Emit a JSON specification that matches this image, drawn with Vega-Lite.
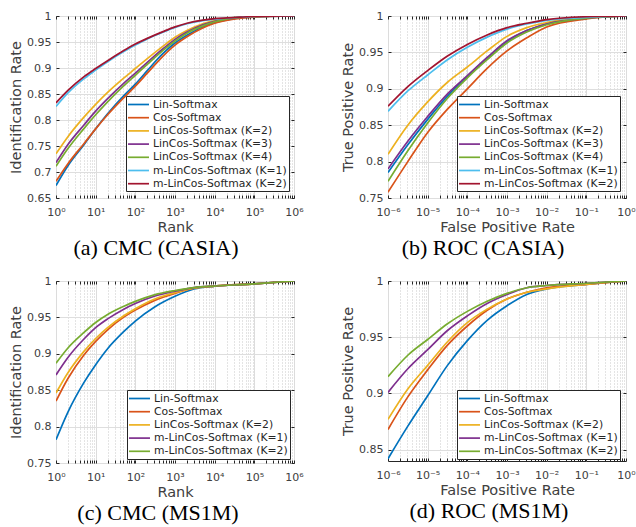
{
"$schema": "https://vega.github.io/schema/vega-lite/v6.json",
"background": "white",
"padding": {"left": 8, "top": 9, "right": 5, "bottom": 3},
"config": {
 "font": "DejaVu Sans",
 "view": {"stroke": "#262626", "strokeWidth": 1},
 "axis": {"domain": false, "tickColor": "#262626", "tickSize": -3, "labelFontSize": 11, "labelColor": "#404040", "titleFontSize": 14.5, "titleFontWeight": "normal", "titleColor": "#404040", "gridColor": "#dedede", "gridWidth": 1, "labelFlush": false, "labelOverlap": false},
 "axisX": {"labelPadding": 11, "titlePadding": 3},
 "axisY": {"labelPadding": 8, "titlePadding": 3, "format": ".2~f"},
 "legend": {"orient": "none", "fillColor": "white", "strokeColor": "#262626", "strokeWidth": 1, "padding": 2, "symbolType": "M-2,0H2", "symbolSize": 110, "symbolStrokeWidth": 2, "symbolOffset": 4, "labelOffset": 8, "labelFontSize": 10.8, "labelColor": "#262626", "rowPadding": 1.2, "labelLimit": 300},
 "title": {"orient": "bottom", "anchor": "middle", "frame": "group", "font": "Liberation Serif", "fontSize": 22, "fontWeight": "normal", "color": "#000000", "offset": 4},
 "line": {"strokeWidth": 1.7, "interpolate": "monotone"}
},
"datasets": {
 "a": [
  {"s":"Lin-Softmax","x":1,"y":0.674},{"s":"Lin-Softmax","x":2,"y":0.712},{"s":"Lin-Softmax","x":5,"y":0.752},{"s":"Lin-Softmax","x":10,"y":0.783},{"s":"Lin-Softmax","x":20,"y":0.812},{"s":"Lin-Softmax","x":50,"y":0.846},{"s":"Lin-Softmax","x":100,"y":0.869},{"s":"Lin-Softmax","x":200,"y":0.895},{"s":"Lin-Softmax","x":500,"y":0.928},{"s":"Lin-Softmax","x":1000,"y":0.948},{"s":"Lin-Softmax","x":2000,"y":0.963},{"s":"Lin-Softmax","x":5000,"y":0.979},{"s":"Lin-Softmax","x":10000,"y":0.987},{"s":"Lin-Softmax","x":30000,"y":0.995},{"s":"Lin-Softmax","x":100000,"y":0.998},{"s":"Lin-Softmax","x":1000000,"y":1},
  {"s":"Cos-Softmax","x":1,"y":0.682},{"s":"Cos-Softmax","x":2,"y":0.716},{"s":"Cos-Softmax","x":5,"y":0.754},{"s":"Cos-Softmax","x":10,"y":0.783},{"s":"Cos-Softmax","x":20,"y":0.81},{"s":"Cos-Softmax","x":50,"y":0.842},{"s":"Cos-Softmax","x":100,"y":0.865},{"s":"Cos-Softmax","x":200,"y":0.89},{"s":"Cos-Softmax","x":500,"y":0.923},{"s":"Cos-Softmax","x":1000,"y":0.944},{"s":"Cos-Softmax","x":2000,"y":0.96},{"s":"Cos-Softmax","x":5000,"y":0.977},{"s":"Cos-Softmax","x":10000,"y":0.986},{"s":"Cos-Softmax","x":30000,"y":0.994},{"s":"Cos-Softmax","x":100000,"y":0.998},{"s":"Cos-Softmax","x":1000000,"y":1},
  {"s":"LinCos-Softmax (K=2)","x":1,"y":0.735},{"s":"LinCos-Softmax (K=2)","x":2,"y":0.768},{"s":"LinCos-Softmax (K=2)","x":5,"y":0.805},{"s":"LinCos-Softmax (K=2)","x":10,"y":0.83},{"s":"LinCos-Softmax (K=2)","x":20,"y":0.853},{"s":"LinCos-Softmax (K=2)","x":50,"y":0.88},{"s":"LinCos-Softmax (K=2)","x":100,"y":0.899},{"s":"LinCos-Softmax (K=2)","x":200,"y":0.918},{"s":"LinCos-Softmax (K=2)","x":500,"y":0.942},{"s":"LinCos-Softmax (K=2)","x":1000,"y":0.959},{"s":"LinCos-Softmax (K=2)","x":2000,"y":0.972},{"s":"LinCos-Softmax (K=2)","x":5000,"y":0.985},{"s":"LinCos-Softmax (K=2)","x":10000,"y":0.991},{"s":"LinCos-Softmax (K=2)","x":30000,"y":0.997},{"s":"LinCos-Softmax (K=2)","x":100000,"y":0.999},{"s":"LinCos-Softmax (K=2)","x":1000000,"y":1},
  {"s":"LinCos-Softmax (K=3)","x":1,"y":0.718},{"s":"LinCos-Softmax (K=3)","x":2,"y":0.753},{"s":"LinCos-Softmax (K=3)","x":5,"y":0.79},{"s":"LinCos-Softmax (K=3)","x":10,"y":0.817},{"s":"LinCos-Softmax (K=3)","x":20,"y":0.841},{"s":"LinCos-Softmax (K=3)","x":50,"y":0.87},{"s":"LinCos-Softmax (K=3)","x":100,"y":0.89},{"s":"LinCos-Softmax (K=3)","x":200,"y":0.911},{"s":"LinCos-Softmax (K=3)","x":500,"y":0.937},{"s":"LinCos-Softmax (K=3)","x":1000,"y":0.955},{"s":"LinCos-Softmax (K=3)","x":2000,"y":0.969},{"s":"LinCos-Softmax (K=3)","x":5000,"y":0.983},{"s":"LinCos-Softmax (K=3)","x":10000,"y":0.99},{"s":"LinCos-Softmax (K=3)","x":30000,"y":0.996},{"s":"LinCos-Softmax (K=3)","x":100000,"y":0.999},{"s":"LinCos-Softmax (K=3)","x":1000000,"y":1},
  {"s":"LinCos-Softmax (K=4)","x":1,"y":0.711},{"s":"LinCos-Softmax (K=4)","x":2,"y":0.745},{"s":"LinCos-Softmax (K=4)","x":5,"y":0.783},{"s":"LinCos-Softmax (K=4)","x":10,"y":0.81},{"s":"LinCos-Softmax (K=4)","x":20,"y":0.835},{"s":"LinCos-Softmax (K=4)","x":50,"y":0.865},{"s":"LinCos-Softmax (K=4)","x":100,"y":0.886},{"s":"LinCos-Softmax (K=4)","x":200,"y":0.907},{"s":"LinCos-Softmax (K=4)","x":500,"y":0.934},{"s":"LinCos-Softmax (K=4)","x":1000,"y":0.952},{"s":"LinCos-Softmax (K=4)","x":2000,"y":0.967},{"s":"LinCos-Softmax (K=4)","x":5000,"y":0.981},{"s":"LinCos-Softmax (K=4)","x":10000,"y":0.989},{"s":"LinCos-Softmax (K=4)","x":30000,"y":0.996},{"s":"LinCos-Softmax (K=4)","x":100000,"y":0.999},{"s":"LinCos-Softmax (K=4)","x":1000000,"y":1},
  {"s":"m-LinCos-Softmax (K=1)","x":1,"y":0.826},{"s":"m-LinCos-Softmax (K=1)","x":2,"y":0.852},{"s":"m-LinCos-Softmax (K=1)","x":5,"y":0.879},{"s":"m-LinCos-Softmax (K=1)","x":10,"y":0.896},{"s":"m-LinCos-Softmax (K=1)","x":20,"y":0.912},{"s":"m-LinCos-Softmax (K=1)","x":50,"y":0.931},{"s":"m-LinCos-Softmax (K=1)","x":100,"y":0.944},{"s":"m-LinCos-Softmax (K=1)","x":200,"y":0.956},{"s":"m-LinCos-Softmax (K=1)","x":500,"y":0.969},{"s":"m-LinCos-Softmax (K=1)","x":1000,"y":0.978},{"s":"m-LinCos-Softmax (K=1)","x":2000,"y":0.985},{"s":"m-LinCos-Softmax (K=1)","x":5000,"y":0.991},{"s":"m-LinCos-Softmax (K=1)","x":10000,"y":0.994},{"s":"m-LinCos-Softmax (K=1)","x":30000,"y":0.997},{"s":"m-LinCos-Softmax (K=1)","x":100000,"y":0.999},{"s":"m-LinCos-Softmax (K=1)","x":1000000,"y":1},
  {"s":"m-LinCos-Softmax (K=2)","x":1,"y":0.833},{"s":"m-LinCos-Softmax (K=2)","x":2,"y":0.857},{"s":"m-LinCos-Softmax (K=2)","x":5,"y":0.883},{"s":"m-LinCos-Softmax (K=2)","x":10,"y":0.899},{"s":"m-LinCos-Softmax (K=2)","x":20,"y":0.914},{"s":"m-LinCos-Softmax (K=2)","x":50,"y":0.933},{"s":"m-LinCos-Softmax (K=2)","x":100,"y":0.946},{"s":"m-LinCos-Softmax (K=2)","x":200,"y":0.957},{"s":"m-LinCos-Softmax (K=2)","x":500,"y":0.97},{"s":"m-LinCos-Softmax (K=2)","x":1000,"y":0.979},{"s":"m-LinCos-Softmax (K=2)","x":2000,"y":0.986},{"s":"m-LinCos-Softmax (K=2)","x":5000,"y":0.992},{"s":"m-LinCos-Softmax (K=2)","x":10000,"y":0.995},{"s":"m-LinCos-Softmax (K=2)","x":30000,"y":0.997},{"s":"m-LinCos-Softmax (K=2)","x":100000,"y":0.999},{"s":"m-LinCos-Softmax (K=2)","x":1000000,"y":1}
 ],
 "b": [
  {"s":"Lin-Softmax","x":1e-6,"y":0.785},{"s":"Lin-Softmax","x":3.16e-6,"y":0.823},{"s":"Lin-Softmax","x":1e-5,"y":0.858},{"s":"Lin-Softmax","x":3.16e-5,"y":0.89},{"s":"Lin-Softmax","x":1e-4,"y":0.917},{"s":"Lin-Softmax","x":3.16e-4,"y":0.942},{"s":"Lin-Softmax","x":1e-3,"y":0.965},{"s":"Lin-Softmax","x":3.16e-3,"y":0.98},{"s":"Lin-Softmax","x":1e-2,"y":0.989},{"s":"Lin-Softmax","x":1e-1,"y":0.997},{"s":"Lin-Softmax","x":1,"y":1},
  {"s":"Cos-Softmax","x":1e-6,"y":0.758},{"s":"Cos-Softmax","x":3.16e-6,"y":0.8},{"s":"Cos-Softmax","x":1e-5,"y":0.84},{"s":"Cos-Softmax","x":3.16e-5,"y":0.872},{"s":"Cos-Softmax","x":1e-4,"y":0.9},{"s":"Cos-Softmax","x":3.16e-4,"y":0.928},{"s":"Cos-Softmax","x":1e-3,"y":0.952},{"s":"Cos-Softmax","x":3.16e-3,"y":0.97},{"s":"Cos-Softmax","x":1e-2,"y":0.985},{"s":"Cos-Softmax","x":1e-1,"y":0.996},{"s":"Cos-Softmax","x":1,"y":1},
  {"s":"LinCos-Softmax (K=2)","x":1e-6,"y":0.81},{"s":"LinCos-Softmax (K=2)","x":3.16e-6,"y":0.85},{"s":"LinCos-Softmax (K=2)","x":1e-5,"y":0.882},{"s":"LinCos-Softmax (K=2)","x":3.16e-5,"y":0.909},{"s":"LinCos-Softmax (K=2)","x":1e-4,"y":0.93},{"s":"LinCos-Softmax (K=2)","x":3.16e-4,"y":0.952},{"s":"LinCos-Softmax (K=2)","x":1e-3,"y":0.972},{"s":"LinCos-Softmax (K=2)","x":3.16e-3,"y":0.984},{"s":"LinCos-Softmax (K=2)","x":1e-2,"y":0.991},{"s":"LinCos-Softmax (K=2)","x":1e-1,"y":0.998},{"s":"LinCos-Softmax (K=2)","x":1,"y":1},
  {"s":"LinCos-Softmax (K=3)","x":1e-6,"y":0.79},{"s":"LinCos-Softmax (K=3)","x":3.16e-6,"y":0.828},{"s":"LinCos-Softmax (K=3)","x":1e-5,"y":0.862},{"s":"LinCos-Softmax (K=3)","x":3.16e-5,"y":0.893},{"s":"LinCos-Softmax (K=3)","x":1e-4,"y":0.918},{"s":"LinCos-Softmax (K=3)","x":3.16e-4,"y":0.943},{"s":"LinCos-Softmax (K=3)","x":1e-3,"y":0.966},{"s":"LinCos-Softmax (K=3)","x":3.16e-3,"y":0.98},{"s":"LinCos-Softmax (K=3)","x":1e-2,"y":0.989},{"s":"LinCos-Softmax (K=3)","x":1e-1,"y":0.997},{"s":"LinCos-Softmax (K=3)","x":1,"y":1},
  {"s":"LinCos-Softmax (K=4)","x":1e-6,"y":0.773},{"s":"LinCos-Softmax (K=4)","x":3.16e-6,"y":0.815},{"s":"LinCos-Softmax (K=4)","x":1e-5,"y":0.853},{"s":"LinCos-Softmax (K=4)","x":3.16e-5,"y":0.887},{"s":"LinCos-Softmax (K=4)","x":1e-4,"y":0.915},{"s":"LinCos-Softmax (K=4)","x":3.16e-4,"y":0.94},{"s":"LinCos-Softmax (K=4)","x":1e-3,"y":0.963},{"s":"LinCos-Softmax (K=4)","x":3.16e-3,"y":0.978},{"s":"LinCos-Softmax (K=4)","x":1e-2,"y":0.988},{"s":"LinCos-Softmax (K=4)","x":1e-1,"y":0.997},{"s":"LinCos-Softmax (K=4)","x":1,"y":1},
  {"s":"m-LinCos-Softmax (K=1)","x":1e-6,"y":0.869},{"s":"m-LinCos-Softmax (K=1)","x":3.16e-6,"y":0.897},{"s":"m-LinCos-Softmax (K=1)","x":1e-5,"y":0.919},{"s":"m-LinCos-Softmax (K=1)","x":3.16e-5,"y":0.94},{"s":"m-LinCos-Softmax (K=1)","x":1e-4,"y":0.957},{"s":"m-LinCos-Softmax (K=1)","x":3.16e-4,"y":0.971},{"s":"m-LinCos-Softmax (K=1)","x":1e-3,"y":0.982},{"s":"m-LinCos-Softmax (K=1)","x":3.16e-3,"y":0.989},{"s":"m-LinCos-Softmax (K=1)","x":1e-2,"y":0.994},{"s":"m-LinCos-Softmax (K=1)","x":1e-1,"y":0.998},{"s":"m-LinCos-Softmax (K=1)","x":1,"y":1},
  {"s":"m-LinCos-Softmax (K=2)","x":1e-6,"y":0.876},{"s":"m-LinCos-Softmax (K=2)","x":3.16e-6,"y":0.903},{"s":"m-LinCos-Softmax (K=2)","x":1e-5,"y":0.925},{"s":"m-LinCos-Softmax (K=2)","x":3.16e-5,"y":0.945},{"s":"m-LinCos-Softmax (K=2)","x":1e-4,"y":0.961},{"s":"m-LinCos-Softmax (K=2)","x":3.16e-4,"y":0.974},{"s":"m-LinCos-Softmax (K=2)","x":1e-3,"y":0.984},{"s":"m-LinCos-Softmax (K=2)","x":3.16e-3,"y":0.99},{"s":"m-LinCos-Softmax (K=2)","x":1e-2,"y":0.995},{"s":"m-LinCos-Softmax (K=2)","x":1e-1,"y":0.999},{"s":"m-LinCos-Softmax (K=2)","x":1,"y":1}
 ],
 "c": [
  {"s":"Lin-Softmax","x":1,"y":0.782},{"s":"Lin-Softmax","x":2,"y":0.82},{"s":"Lin-Softmax","x":5,"y":0.86},{"s":"Lin-Softmax","x":10,"y":0.885},{"s":"Lin-Softmax","x":20,"y":0.907},{"s":"Lin-Softmax","x":50,"y":0.93},{"s":"Lin-Softmax","x":100,"y":0.945},{"s":"Lin-Softmax","x":300,"y":0.964},{"s":"Lin-Softmax","x":1000,"y":0.979},{"s":"Lin-Softmax","x":3000,"y":0.989},{"s":"Lin-Softmax","x":10000,"y":0.993},{"s":"Lin-Softmax","x":100000,"y":0.996},{"s":"Lin-Softmax","x":1000000,"y":1},
  {"s":"Cos-Softmax","x":1,"y":0.835},{"s":"Cos-Softmax","x":2,"y":0.866},{"s":"Cos-Softmax","x":5,"y":0.898},{"s":"Cos-Softmax","x":10,"y":0.917},{"s":"Cos-Softmax","x":20,"y":0.933},{"s":"Cos-Softmax","x":50,"y":0.95},{"s":"Cos-Softmax","x":100,"y":0.96},{"s":"Cos-Softmax","x":300,"y":0.973},{"s":"Cos-Softmax","x":1000,"y":0.983},{"s":"Cos-Softmax","x":3000,"y":0.99},{"s":"Cos-Softmax","x":10000,"y":0.993},{"s":"Cos-Softmax","x":100000,"y":0.996},{"s":"Cos-Softmax","x":1000000,"y":1},
  {"s":"LinCos-Softmax (K=2)","x":1,"y":0.846},{"s":"LinCos-Softmax (K=2)","x":2,"y":0.874},{"s":"LinCos-Softmax (K=2)","x":5,"y":0.903},{"s":"LinCos-Softmax (K=2)","x":10,"y":0.921},{"s":"LinCos-Softmax (K=2)","x":20,"y":0.936},{"s":"LinCos-Softmax (K=2)","x":50,"y":0.952},{"s":"LinCos-Softmax (K=2)","x":100,"y":0.962},{"s":"LinCos-Softmax (K=2)","x":300,"y":0.975},{"s":"LinCos-Softmax (K=2)","x":1000,"y":0.984},{"s":"LinCos-Softmax (K=2)","x":3000,"y":0.99},{"s":"LinCos-Softmax (K=2)","x":10000,"y":0.993},{"s":"LinCos-Softmax (K=2)","x":100000,"y":0.996},{"s":"LinCos-Softmax (K=2)","x":1000000,"y":1},
  {"s":"m-LinCos-Softmax (K=1)","x":1,"y":0.871},{"s":"m-LinCos-Softmax (K=1)","x":2,"y":0.895},{"s":"m-LinCos-Softmax (K=1)","x":5,"y":0.92},{"s":"m-LinCos-Softmax (K=1)","x":10,"y":0.936},{"s":"m-LinCos-Softmax (K=1)","x":20,"y":0.948},{"s":"m-LinCos-Softmax (K=1)","x":50,"y":0.961},{"s":"m-LinCos-Softmax (K=1)","x":100,"y":0.969},{"s":"m-LinCos-Softmax (K=1)","x":300,"y":0.979},{"s":"m-LinCos-Softmax (K=1)","x":1000,"y":0.986},{"s":"m-LinCos-Softmax (K=1)","x":3000,"y":0.991},{"s":"m-LinCos-Softmax (K=1)","x":10000,"y":0.993},{"s":"m-LinCos-Softmax (K=1)","x":100000,"y":0.996},{"s":"m-LinCos-Softmax (K=1)","x":1000000,"y":1},
  {"s":"m-LinCos-Softmax (K=2)","x":1,"y":0.887},{"s":"m-LinCos-Softmax (K=2)","x":2,"y":0.908},{"s":"m-LinCos-Softmax (K=2)","x":5,"y":0.929},{"s":"m-LinCos-Softmax (K=2)","x":10,"y":0.943},{"s":"m-LinCos-Softmax (K=2)","x":20,"y":0.954},{"s":"m-LinCos-Softmax (K=2)","x":50,"y":0.965},{"s":"m-LinCos-Softmax (K=2)","x":100,"y":0.972},{"s":"m-LinCos-Softmax (K=2)","x":300,"y":0.981},{"s":"m-LinCos-Softmax (K=2)","x":1000,"y":0.987},{"s":"m-LinCos-Softmax (K=2)","x":3000,"y":0.991},{"s":"m-LinCos-Softmax (K=2)","x":10000,"y":0.993},{"s":"m-LinCos-Softmax (K=2)","x":100000,"y":0.996},{"s":"m-LinCos-Softmax (K=2)","x":1000000,"y":1}
 ],
 "d": [
  {"s":"Lin-Softmax","x":1e-6,"y":0.842},{"s":"Lin-Softmax","x":3.16e-6,"y":0.871},{"s":"Lin-Softmax","x":1e-5,"y":0.898},{"s":"Lin-Softmax","x":3.16e-5,"y":0.925},{"s":"Lin-Softmax","x":1e-4,"y":0.947},{"s":"Lin-Softmax","x":3.16e-4,"y":0.965},{"s":"Lin-Softmax","x":1e-3,"y":0.978},{"s":"Lin-Softmax","x":3.16e-3,"y":0.988},{"s":"Lin-Softmax","x":1e-2,"y":0.993},{"s":"Lin-Softmax","x":1e-1,"y":0.997},{"s":"Lin-Softmax","x":1,"y":1},
  {"s":"Cos-Softmax","x":1e-6,"y":0.868},{"s":"Cos-Softmax","x":3.16e-6,"y":0.897},{"s":"Cos-Softmax","x":1e-5,"y":0.921},{"s":"Cos-Softmax","x":3.16e-5,"y":0.943},{"s":"Cos-Softmax","x":1e-4,"y":0.96},{"s":"Cos-Softmax","x":3.16e-4,"y":0.974},{"s":"Cos-Softmax","x":1e-3,"y":0.984},{"s":"Cos-Softmax","x":3.16e-3,"y":0.99},{"s":"Cos-Softmax","x":1e-2,"y":0.994},{"s":"Cos-Softmax","x":1e-1,"y":0.997},{"s":"Cos-Softmax","x":1,"y":1},
  {"s":"LinCos-Softmax (K=2)","x":1e-6,"y":0.877},{"s":"LinCos-Softmax (K=2)","x":3.16e-6,"y":0.904},{"s":"LinCos-Softmax (K=2)","x":1e-5,"y":0.925},{"s":"LinCos-Softmax (K=2)","x":3.16e-5,"y":0.946},{"s":"LinCos-Softmax (K=2)","x":1e-4,"y":0.963},{"s":"LinCos-Softmax (K=2)","x":3.16e-4,"y":0.975},{"s":"LinCos-Softmax (K=2)","x":1e-3,"y":0.984},{"s":"LinCos-Softmax (K=2)","x":3.16e-3,"y":0.99},{"s":"LinCos-Softmax (K=2)","x":1e-2,"y":0.993},{"s":"LinCos-Softmax (K=2)","x":1e-1,"y":0.997},{"s":"LinCos-Softmax (K=2)","x":1,"y":1},
  {"s":"m-LinCos-Softmax (K=1)","x":1e-6,"y":0.901},{"s":"m-LinCos-Softmax (K=1)","x":3.16e-6,"y":0.922},{"s":"m-LinCos-Softmax (K=1)","x":1e-5,"y":0.939},{"s":"m-LinCos-Softmax (K=1)","x":3.16e-5,"y":0.956},{"s":"m-LinCos-Softmax (K=1)","x":1e-4,"y":0.969},{"s":"m-LinCos-Softmax (K=1)","x":3.16e-4,"y":0.98},{"s":"m-LinCos-Softmax (K=1)","x":1e-3,"y":0.988},{"s":"m-LinCos-Softmax (K=1)","x":3.16e-3,"y":0.994},{"s":"m-LinCos-Softmax (K=1)","x":1e-2,"y":0.996},{"s":"m-LinCos-Softmax (K=1)","x":1e-1,"y":0.998},{"s":"m-LinCos-Softmax (K=1)","x":1,"y":1},
  {"s":"m-LinCos-Softmax (K=2)","x":1e-6,"y":0.915},{"s":"m-LinCos-Softmax (K=2)","x":3.16e-6,"y":0.934},{"s":"m-LinCos-Softmax (K=2)","x":1e-5,"y":0.948},{"s":"m-LinCos-Softmax (K=2)","x":3.16e-5,"y":0.962},{"s":"m-LinCos-Softmax (K=2)","x":1e-4,"y":0.973},{"s":"m-LinCos-Softmax (K=2)","x":3.16e-4,"y":0.982},{"s":"m-LinCos-Softmax (K=2)","x":1e-3,"y":0.989},{"s":"m-LinCos-Softmax (K=2)","x":3.16e-3,"y":0.994},{"s":"m-LinCos-Softmax (K=2)","x":1e-2,"y":0.996},{"s":"m-LinCos-Softmax (K=2)","x":1e-1,"y":0.998},{"s":"m-LinCos-Softmax (K=2)","x":1,"y":1}
 ]
},
"columns": 2,
"spacing": {"row": 83, "column": 94},
"bounds": "flush",
"resolve": {"scale": {"color": "independent", "x": "independent", "y": "independent"}, "legend": {"color": "independent"}},
"concat": [
 {
  "width": 238, "height": 182,
  "title": {"text": "(a) CMC (CASIA)", "dx": -19},
  "data": {"name": "a"},
  "resolve": {"axis": {"x": "independent", "y": "independent"}},
  "layer": [
   {
    "mark": {"type": "line", "clip": true},
    "encoding": {
     "x": {"field": "x", "type": "quantitative", "scale": {"type": "log", "domain": [1, 1000000], "nice": false},
      "axis": {"title": "Rank",
       "values": [1,2,3,4,5,6,7,8,9,10,20,30,40,50,60,70,80,90,100,200,300,400,500,600,700,800,900,1000,2000,3000,4000,5000,6000,7000,8000,9000,10000,20000,30000,40000,50000,60000,70000,80000,90000,100000,200000,300000,400000,500000,600000,700000,800000,900000,1000000],
       "labelExpr": "abs(log(datum.value)/LN10 - round(log(datum.value)/LN10)) < 0.000001 ? '10' + (round(log(datum.value)/LN10) < 0 ? '⁻' : '') + ['⁰','¹','²','³','⁴','⁵','⁶'][abs(round(log(datum.value)/LN10))] : ''",
       "gridDash": {"condition": {"test": "abs(log(datum.value)/LN10 - round(log(datum.value)/LN10)) < 0.000001", "value": []}, "value": [1, 2]},
       "gridColor": {"condition": {"test": "abs(log(datum.value)/LN10 - round(log(datum.value)/LN10)) < 0.000001", "value": "#dcdcdc"}, "value": "#c8c8c8"}}},
     "y": {"field": "y", "type": "quantitative", "scale": {"domain": [0.65, 1], "nice": false, "zero": false},
      "axis": {"title": "Identification Rate", "values": [0.65,0.7,0.75,0.8,0.85,0.9,0.95,1]}},
     "color": {"field": "s", "type": "nominal",
      "scale": {"domain": ["Lin-Softmax","Cos-Softmax","LinCos-Softmax (K=2)","LinCos-Softmax (K=3)","LinCos-Softmax (K=4)","m-LinCos-Softmax (K=1)","m-LinCos-Softmax (K=2)"], "range": ["#0072BD","#D95319","#EDB120","#7E2F8E","#77AC30","#4DBEEE","#A2142F"]},
      "legend": {"title": null, "legendX": 70, "legendY": 80, "strokeColor": "#262626", "fillColor": "#ffffff"}}
    }
   },
   {
    "mark": {"type": "line", "strokeOpacity": 0},
    "encoding": {
     "x": {"field": "x", "type": "quantitative", "scale": {"type": "log", "domain": [1, 1000000], "nice": false},
      "axis": {"orient": "top", "labels": false, "grid": false, "title": null,
       "values": [1,2,3,4,5,6,7,8,9,10,20,30,40,50,60,70,80,90,100,200,300,400,500,600,700,800,900,1000,2000,3000,4000,5000,6000,7000,8000,9000,10000,20000,30000,40000,50000,60000,70000,80000,90000,100000,200000,300000,400000,500000,600000,700000,800000,900000,1000000]}},
     "y": {"field": "y", "type": "quantitative", "scale": {"domain": [0.65, 1], "nice": false, "zero": false},
      "axis": {"orient": "right", "labels": false, "grid": false, "title": null, "values": [0.65,0.7,0.75,0.8,0.85,0.9,0.95,1]}}
    }
   }
  ]
 },
 {
  "width": 238, "height": 182,
  "title": {"text": "(b) ROC (CASIA)", "dx": -24},
  "data": {"name": "b"},
  "resolve": {"axis": {"x": "independent", "y": "independent"}},
  "layer": [
   {
    "mark": {"type": "line", "clip": true},
    "encoding": {
     "x": {"field": "x", "type": "quantitative", "scale": {"type": "log", "domain": [0.000001, 1], "nice": false},
      "axis": {"title": "False Positive Rate",
       "values": [0.000001,0.000002,0.000003,0.000004,0.000005,0.000006,0.000007,0.000008,0.000009,0.00001,0.00002,0.00003,0.00004,0.00005,0.00006,0.00007,0.00008,0.00009,0.0001,0.0002,0.0003,0.0004,0.0005,0.0006,0.0007,0.0008,0.0009,0.001,0.002,0.003,0.004,0.005,0.006,0.007,0.008,0.009,0.01,0.02,0.03,0.04,0.05,0.06,0.07,0.08,0.09,0.1,0.2,0.3,0.4,0.5,0.6,0.7,0.8,0.9,1],
       "labelExpr": "abs(log(datum.value)/LN10 - round(log(datum.value)/LN10)) < 0.000001 ? '10' + (round(log(datum.value)/LN10) < 0 ? '⁻' : '') + ['⁰','¹','²','³','⁴','⁵','⁶'][abs(round(log(datum.value)/LN10))] : ''",
       "gridDash": {"condition": {"test": "abs(log(datum.value)/LN10 - round(log(datum.value)/LN10)) < 0.000001", "value": []}, "value": [1, 2]},
       "gridColor": {"condition": {"test": "abs(log(datum.value)/LN10 - round(log(datum.value)/LN10)) < 0.000001", "value": "#dcdcdc"}, "value": "#c8c8c8"}}},
     "y": {"field": "y", "type": "quantitative", "scale": {"domain": [0.75, 1], "nice": false, "zero": false},
      "axis": {"title": "True Positive Rate", "values": [0.75,0.8,0.85,0.9,0.95,1]}},
     "color": {"field": "s", "type": "nominal",
      "scale": {"domain": ["Lin-Softmax","Cos-Softmax","LinCos-Softmax (K=2)","LinCos-Softmax (K=3)","LinCos-Softmax (K=4)","m-LinCos-Softmax (K=1)","m-LinCos-Softmax (K=2)"], "range": ["#0072BD","#D95319","#EDB120","#7E2F8E","#77AC30","#4DBEEE","#A2142F"]},
      "legend": {"title": null, "legendX": 69, "legendY": 80, "strokeColor": "#262626", "fillColor": "#ffffff"}}
    }
   },
   {
    "mark": {"type": "line", "strokeOpacity": 0},
    "encoding": {
     "x": {"field": "x", "type": "quantitative", "scale": {"type": "log", "domain": [0.000001, 1], "nice": false},
      "axis": {"orient": "top", "labels": false, "grid": false, "title": null,
       "values": [0.000001,0.000002,0.000003,0.000004,0.000005,0.000006,0.000007,0.000008,0.000009,0.00001,0.00002,0.00003,0.00004,0.00005,0.00006,0.00007,0.00008,0.00009,0.0001,0.0002,0.0003,0.0004,0.0005,0.0006,0.0007,0.0008,0.0009,0.001,0.002,0.003,0.004,0.005,0.006,0.007,0.008,0.009,0.01,0.02,0.03,0.04,0.05,0.06,0.07,0.08,0.09,0.1,0.2,0.3,0.4,0.5,0.6,0.7,0.8,0.9,1]}},
     "y": {"field": "y", "type": "quantitative", "scale": {"domain": [0.75, 1], "nice": false, "zero": false},
      "axis": {"orient": "right", "labels": false, "grid": false, "title": null, "values": [0.75,0.8,0.85,0.9,0.95,1]}}
    }
   }
  ]
 },
 {
  "width": 238, "height": 182,
  "title": {"text": "(c) CMC (MS1M)", "dx": -17},
  "data": {"name": "c"},
  "resolve": {"axis": {"x": "independent", "y": "independent"}},
  "layer": [
   {
    "mark": {"type": "line", "clip": true},
    "encoding": {
     "x": {"field": "x", "type": "quantitative", "scale": {"type": "log", "domain": [1, 1000000], "nice": false},
      "axis": {"title": "Rank",
       "values": [1,2,3,4,5,6,7,8,9,10,20,30,40,50,60,70,80,90,100,200,300,400,500,600,700,800,900,1000,2000,3000,4000,5000,6000,7000,8000,9000,10000,20000,30000,40000,50000,60000,70000,80000,90000,100000,200000,300000,400000,500000,600000,700000,800000,900000,1000000],
       "labelExpr": "abs(log(datum.value)/LN10 - round(log(datum.value)/LN10)) < 0.000001 ? '10' + (round(log(datum.value)/LN10) < 0 ? '⁻' : '') + ['⁰','¹','²','³','⁴','⁵','⁶'][abs(round(log(datum.value)/LN10))] : ''",
       "gridDash": {"condition": {"test": "abs(log(datum.value)/LN10 - round(log(datum.value)/LN10)) < 0.000001", "value": []}, "value": [1, 2]},
       "gridColor": {"condition": {"test": "abs(log(datum.value)/LN10 - round(log(datum.value)/LN10)) < 0.000001", "value": "#dcdcdc"}, "value": "#c8c8c8"}}},
     "y": {"field": "y", "type": "quantitative", "scale": {"domain": [0.75, 1], "nice": false, "zero": false},
      "axis": {"title": "Identification Rate", "values": [0.75,0.8,0.85,0.9,0.95,1]}},
     "color": {"field": "s", "type": "nominal",
      "scale": {"domain": ["Lin-Softmax","Cos-Softmax","LinCos-Softmax (K=2)","m-LinCos-Softmax (K=1)","m-LinCos-Softmax (K=2)"], "range": ["#0072BD","#D95319","#EDB120","#7E2F8E","#77AC30"]},
      "legend": {"title": null, "legendX": 71, "legendY": 109, "strokeColor": "#262626", "fillColor": "#ffffff"}}
    }
   },
   {
    "mark": {"type": "line", "strokeOpacity": 0},
    "encoding": {
     "x": {"field": "x", "type": "quantitative", "scale": {"type": "log", "domain": [1, 1000000], "nice": false},
      "axis": {"orient": "top", "labels": false, "grid": false, "title": null,
       "values": [1,2,3,4,5,6,7,8,9,10,20,30,40,50,60,70,80,90,100,200,300,400,500,600,700,800,900,1000,2000,3000,4000,5000,6000,7000,8000,9000,10000,20000,30000,40000,50000,60000,70000,80000,90000,100000,200000,300000,400000,500000,600000,700000,800000,900000,1000000]}},
     "y": {"field": "y", "type": "quantitative", "scale": {"domain": [0.75, 1], "nice": false, "zero": false},
      "axis": {"orient": "right", "labels": false, "grid": false, "title": null, "values": [0.75,0.8,0.85,0.9,0.95,1]}}
    }
   }
  ]
 },
 {
  "width": 238, "height": 180,
  "title": {"text": "(d) ROC (MS1M)", "dx": -18},
  "data": {"name": "d"},
  "resolve": {"axis": {"x": "independent", "y": "independent"}},
  "layer": [
   {
    "mark": {"type": "line", "clip": true},
    "encoding": {
     "x": {"field": "x", "type": "quantitative", "scale": {"type": "log", "domain": [0.000001, 1], "nice": false},
      "axis": {"title": "False Positive Rate",
       "values": [0.000001,0.000002,0.000003,0.000004,0.000005,0.000006,0.000007,0.000008,0.000009,0.00001,0.00002,0.00003,0.00004,0.00005,0.00006,0.00007,0.00008,0.00009,0.0001,0.0002,0.0003,0.0004,0.0005,0.0006,0.0007,0.0008,0.0009,0.001,0.002,0.003,0.004,0.005,0.006,0.007,0.008,0.009,0.01,0.02,0.03,0.04,0.05,0.06,0.07,0.08,0.09,0.1,0.2,0.3,0.4,0.5,0.6,0.7,0.8,0.9,1],
       "labelExpr": "abs(log(datum.value)/LN10 - round(log(datum.value)/LN10)) < 0.000001 ? '10' + (round(log(datum.value)/LN10) < 0 ? '⁻' : '') + ['⁰','¹','²','³','⁴','⁵','⁶'][abs(round(log(datum.value)/LN10))] : ''",
       "gridDash": {"condition": {"test": "abs(log(datum.value)/LN10 - round(log(datum.value)/LN10)) < 0.000001", "value": []}, "value": [1, 2]},
       "gridColor": {"condition": {"test": "abs(log(datum.value)/LN10 - round(log(datum.value)/LN10)) < 0.000001", "value": "#dcdcdc"}, "value": "#c8c8c8"}}},
     "y": {"field": "y", "type": "quantitative", "scale": {"domain": [0.84, 1], "nice": false, "zero": false},
      "axis": {"title": "True Positive Rate", "values": [0.85,0.9,0.95,1]}},
     "color": {"field": "s", "type": "nominal",
      "scale": {"domain": ["Lin-Softmax","Cos-Softmax","LinCos-Softmax (K=2)","m-LinCos-Softmax (K=1)","m-LinCos-Softmax (K=2)"], "range": ["#0072BD","#D95319","#EDB120","#7E2F8E","#77AC30"]},
      "legend": {"title": null, "legendX": 69, "legendY": 109, "strokeColor": "#262626", "fillColor": "#ffffff"}}
    }
   },
   {
    "mark": {"type": "line", "strokeOpacity": 0},
    "encoding": {
     "x": {"field": "x", "type": "quantitative", "scale": {"type": "log", "domain": [0.000001, 1], "nice": false},
      "axis": {"orient": "top", "labels": false, "grid": false, "title": null,
       "values": [0.000001,0.000002,0.000003,0.000004,0.000005,0.000006,0.000007,0.000008,0.000009,0.00001,0.00002,0.00003,0.00004,0.00005,0.00006,0.00007,0.00008,0.00009,0.0001,0.0002,0.0003,0.0004,0.0005,0.0006,0.0007,0.0008,0.0009,0.001,0.002,0.003,0.004,0.005,0.006,0.007,0.008,0.009,0.01,0.02,0.03,0.04,0.05,0.06,0.07,0.08,0.09,0.1,0.2,0.3,0.4,0.5,0.6,0.7,0.8,0.9,1]}},
     "y": {"field": "y", "type": "quantitative", "scale": {"domain": [0.84, 1], "nice": false, "zero": false},
      "axis": {"orient": "right", "labels": false, "grid": false, "title": null, "values": [0.85,0.9,0.95,1]}}
    }
   }
  ]
 }
]
}
